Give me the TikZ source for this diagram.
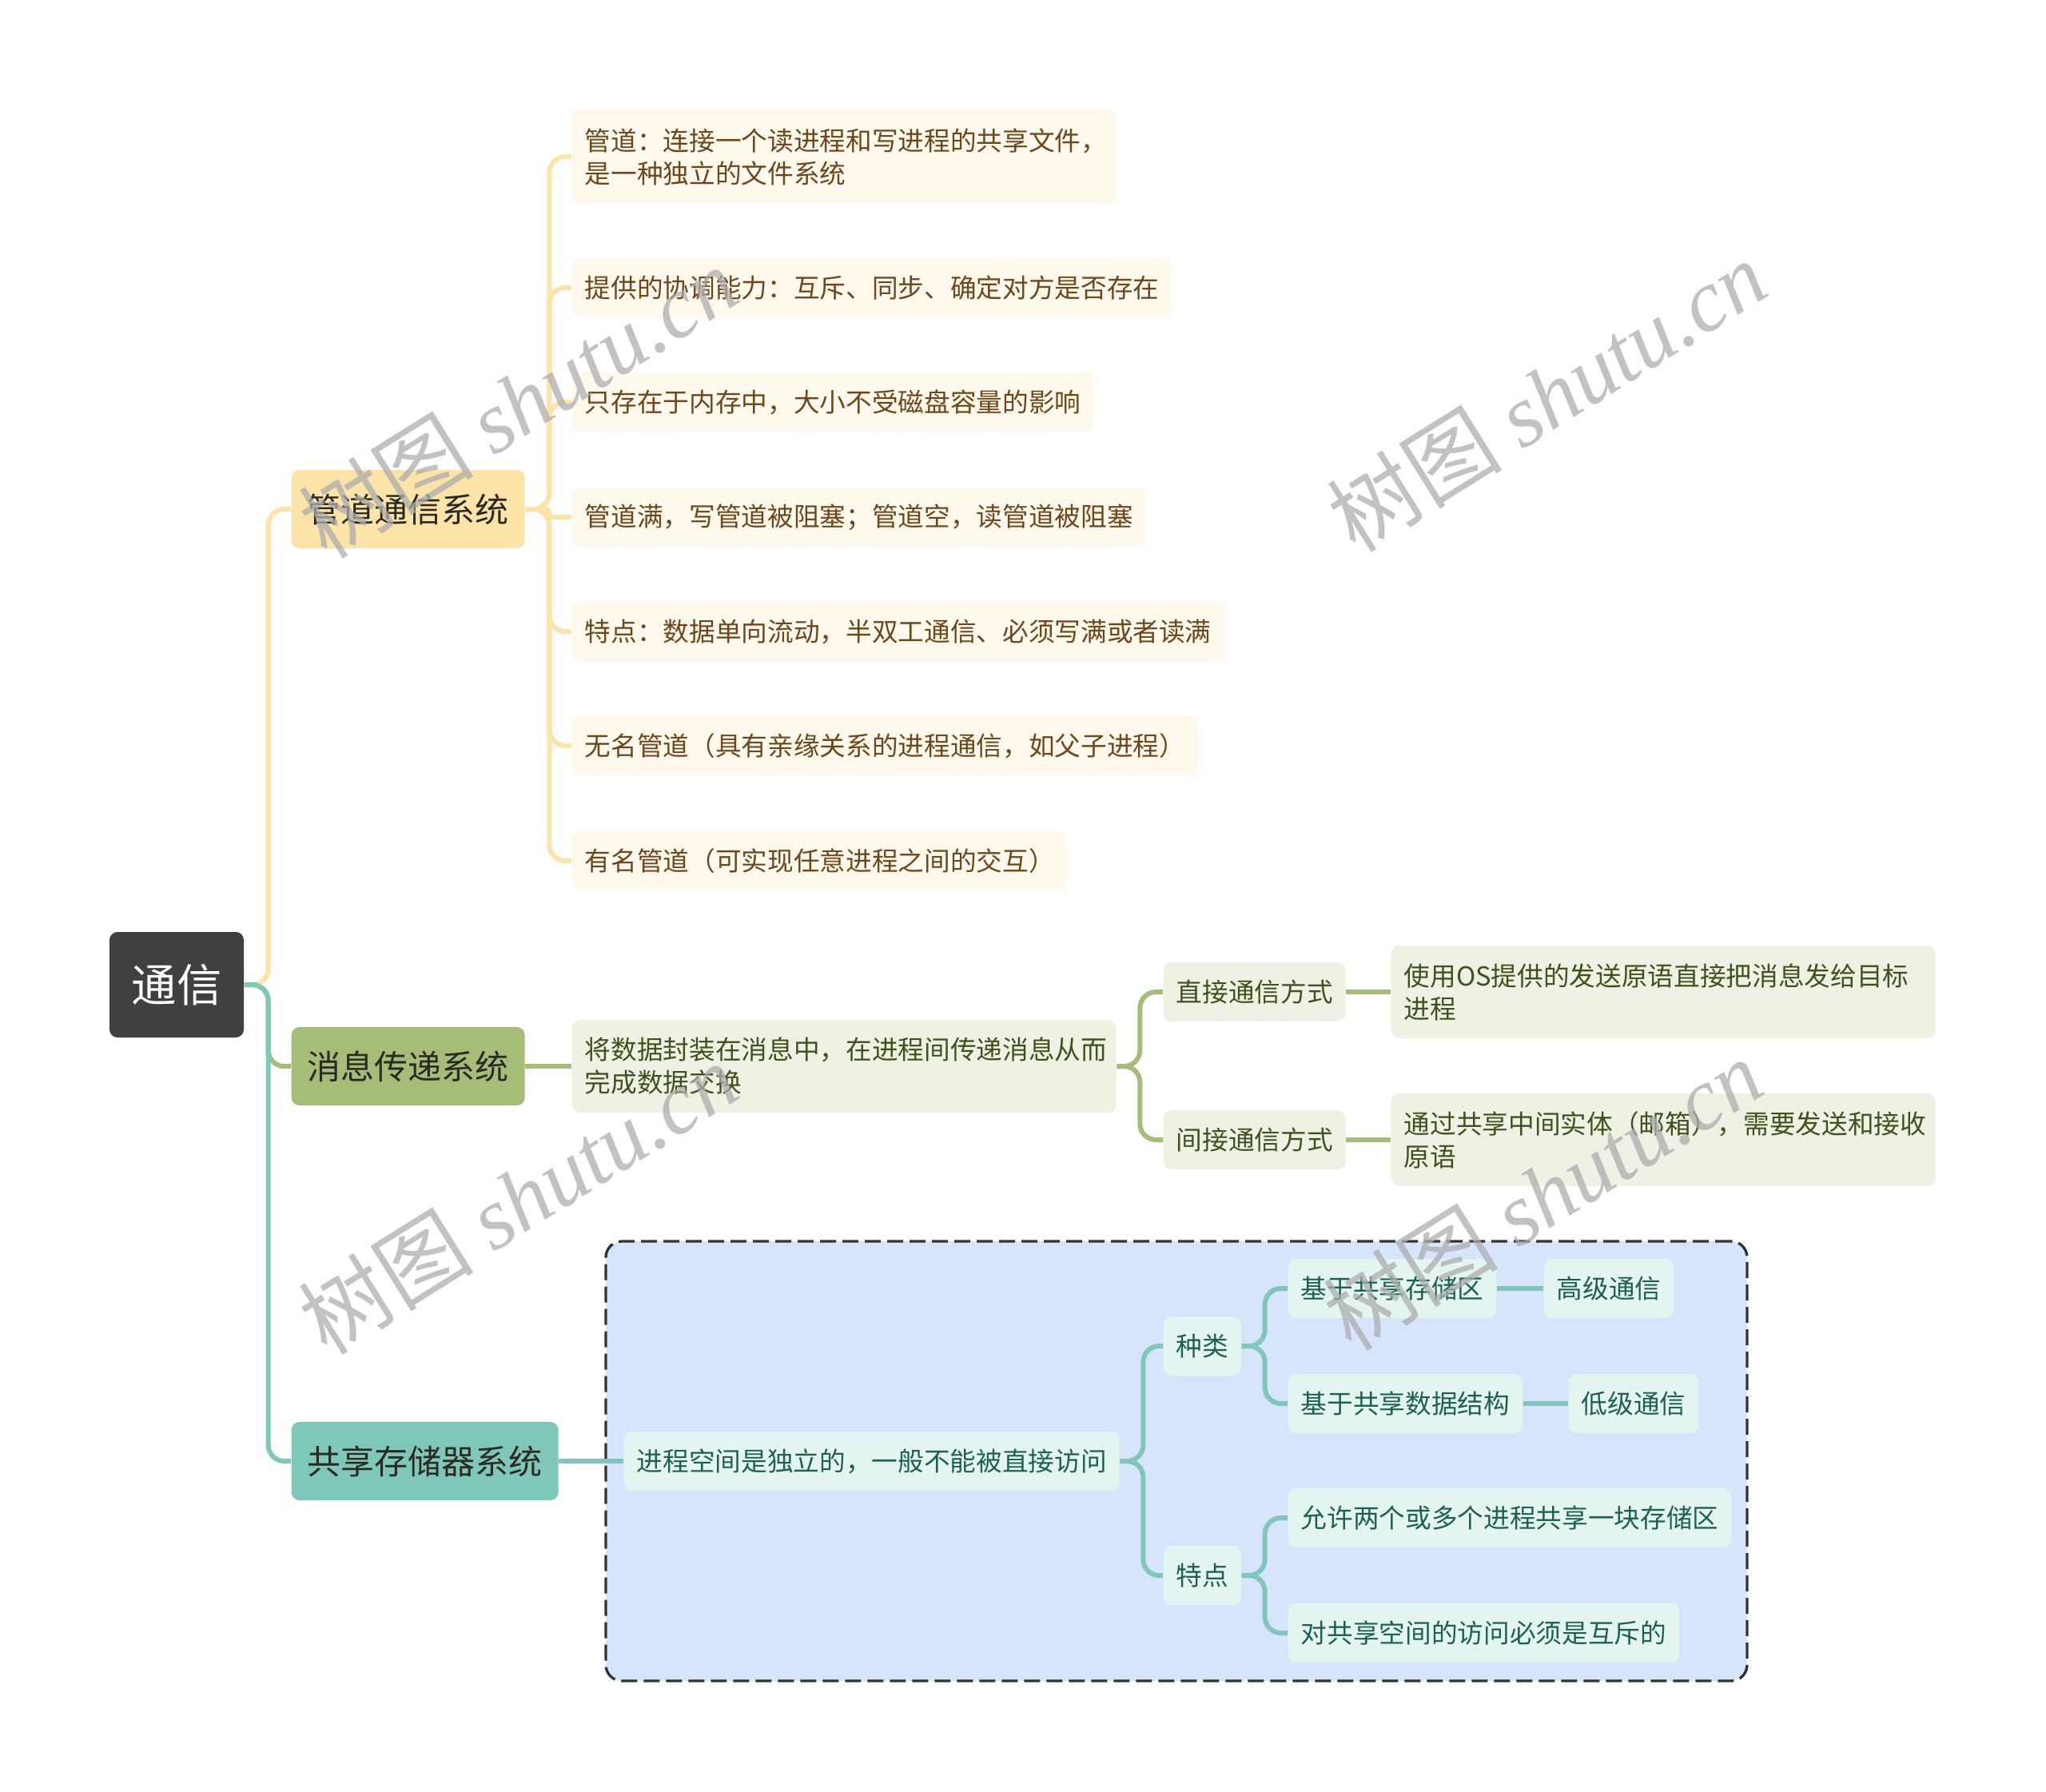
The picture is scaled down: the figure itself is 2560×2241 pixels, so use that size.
\documentclass[tikz,border=0pt]{standalone}
\usepackage{fontspec}
\setmainfont{Noto Sans CJK SC}
\newfontfamily\wmserif{Liberation Serif}
\newfontfamily\wmcjk{Noto Sans CJK SC}
\definecolor{rootfill}{HTML}{404040}
\definecolor{pipeL}{HTML}{FCE3A8}
\definecolor{pipeLeaf}{HTML}{FEF9EC}
\definecolor{pipeText}{HTML}{6E461A}
\definecolor{msgL}{HTML}{A5BD77}
\definecolor{msgLeaf}{HTML}{EEF1E4}
\definecolor{msgText}{HTML}{3F521C}
\definecolor{shmL}{HTML}{7FC8B9}
\definecolor{shmLeaf}{HTML}{E4F5F1}
\definecolor{shmText}{HTML}{1D6150}
\definecolor{shmBg}{HTML}{D6E4FC}
\definecolor{lOneText}{HTML}{2A2A22}
\definecolor{wmgray}{HTML}{ADADAD}
\begin{document}
\begin{tikzpicture}[x=0.3pt,y=-0.3pt,
  rootbox/.style={fill=rootfill, text=white, rounded corners=3pt, minimum width=50.4pt, minimum height=39.6pt, inner sep=0pt, font=\fontsize{16.9}{20}\selectfont},
  lone/.style={rounded corners=3pt, minimum height=29.4pt, inner xsep=6pt, inner ysep=0pt, anchor=west, text=lOneText, font=\fontsize{12.6}{15}\selectfont},
  leaf/.style={rounded corners=3pt, minimum height=22.2pt, inner xsep=4.8pt, inner ysep=0pt, anchor=west, align=left, font=\fontsize{9.8}{12.3}\selectfont},
  wide/.style={text width=194.7pt, minimum height=34.8pt},
  pipeleaf/.style={leaf, fill=pipeLeaf, text=pipeText},
  msgleaf/.style={leaf, fill=msgLeaf, text=msgText},
  shmleaf/.style={leaf, fill=shmLeaf, text=shmText},
  conn/.style={line width=1.8pt, rounded corners=6pt},
  wm/.style={text=wmgray, opacity=0.75, rotate=32, font=\fontsize{33}{40}\selectfont, inner sep=0pt}
]
\useasboundingbox (0,0) rectangle (2560,2241);

% shared memory background
\node[draw=black!80, dashed, dash pattern=on 6pt off 2.4pt, line width=1pt, fill=shmBg, rounded corners=6pt,
      minimum width=428.4pt, minimum height=165pt, inner sep=0pt] (shmbg) at (1472,1828) {};

% root
\node[rootbox] (root) at (221,1232) {通信};

% level one
\node[lone, fill=pipeL] (pipe) at (364,637) {管道通信系统};
\node[lone, fill=msgL] (msg) at (364,1334) {消息传递系统};
\node[lone, fill=shmL] (shm) at (364,1828) {共享存储器系统};

% pipe leaves
\node[pipeleaf, wide] (p1) at (715,196) {管道：连接一个读进程和写进程的共享文件，\\是一种独立的文件系统};
\node[pipeleaf] (p2) at (715,360) {提供的协调能力：互斥、同步、确定对方是否存在};
\node[pipeleaf] (p3) at (715,503) {只存在于内存中，大小不受磁盘容量的影响};
\node[pipeleaf] (p4) at (715,647) {管道满，写管道被阻塞；管道空，读管道被阻塞};
\node[pipeleaf] (p5) at (715,790) {特点：数据单向流动，半双工通信、必须写满或者读满};
\node[pipeleaf] (p6) at (715,933) {无名管道（具有亲缘关系的进程通信，如父子进程）};
\node[pipeleaf] (p7) at (715,1077) {有名管道（可实现任意进程之间的交互）};

% message leaves
\node[msgleaf, wide] (m1) at (715,1334) {将数据封装在消息中，在进程间传递消息从而\\完成数据交换};
\node[msgleaf] (d1) at (1455,1241) {直接通信方式};
\node[msgleaf] (d2) at (1455,1426) {间接通信方式};
\node[msgleaf, wide] (d1c) at (1740,1241) {使用OS提供的发送原语直接把消息发给目标\\进程};
\node[msgleaf, wide] (d2c) at (1740,1426) {通过共享中间实体（邮箱），需要发送和接收\\原语};

% shared memory leaves
\node[shmleaf] (s1) at (780,1828) {进程空间是独立的，一般不能被直接访问};
\node[shmleaf] (k1) at (1455,1684) {种类};
\node[shmleaf] (k2) at (1455,1971) {特点};
\node[shmleaf] (a1) at (1611,1612) {基于共享存储区};
\node[shmleaf] (a1c) at (1931,1612) {高级通信};
\node[shmleaf] (a2) at (1611,1756) {基于共享数据结构};
\node[shmleaf] (a2c) at (1962,1756) {低级通信};
\node[shmleaf] (b1) at (1611,1899) {允许两个或多个进程共享一块存储区};
\node[shmleaf] (b2) at (1611,2043) {对共享空间的访问必须是互斥的};

% connectors from root
\draw[conn, pipeL] (root.east) -- ++(30,0) |- (pipe.west);
\draw[conn, msgL] (root.east) -- ++(30,0) |- (msg.west);
\draw[conn, shmL] (root.east) -- ++(30,0) |- (shm.west);

% pipe connectors
\foreach \n in {p1,p2,p3,p5,p6,p7}{
  \draw[conn, pipeL] (pipe.east) -- ++(30,0) |- (\n.west);
}
\draw[conn, pipeL, rounded corners=1.5pt] (pipe.east) -- ++(30,0) |- (p4.west);

% message connectors
\draw[conn, msgL] (msg.east) -- (m1.west);
\draw[conn, msgL] (m1.east) -- ++(29,0) |- (d1.west);
\draw[conn, msgL] (m1.east) -- ++(29,0) |- (d2.west);
\draw[conn, msgL] (d1.east) -- (d1c.west);
\draw[conn, msgL] (d2.east) -- (d2c.west);

% shared memory connectors
\draw[conn, shmL] (shm.east) -- (s1.west);
\draw[conn, shmL] (s1.east) -- ++(29,0) |- (k1.west);
\draw[conn, shmL] (s1.east) -- ++(29,0) |- (k2.west);
\draw[conn, shmL] (k1.east) -- ++(29,0) |- (a1.west);
\draw[conn, shmL] (k1.east) -- ++(29,0) |- (a2.west);
\draw[conn, shmL] (a1.east) -- (a1c.west);
\draw[conn, shmL] (a2.east) -- (a2c.west);
\draw[conn, shmL] (k2.east) -- ++(29,0) |- (b1.west);
\draw[conn, shmL] (k2.east) -- ++(29,0) |- (b2.west);

% watermarks
\node[wm] (wm1) at (648,503) {\wmcjk 树图 \wmserif\itshape shutu.cn};
\node[wm] (wm2) at (1935,495) {\wmcjk 树图 \wmserif\itshape shutu.cn};
\node[wm] (wm3) at (648,1499) {\wmcjk 树图 \wmserif\itshape shutu.cn};
\node[wm] (wm4) at (1930,1494) {\wmcjk 树图 \wmserif\itshape shutu.cn};
\end{tikzpicture}
\end{document}
